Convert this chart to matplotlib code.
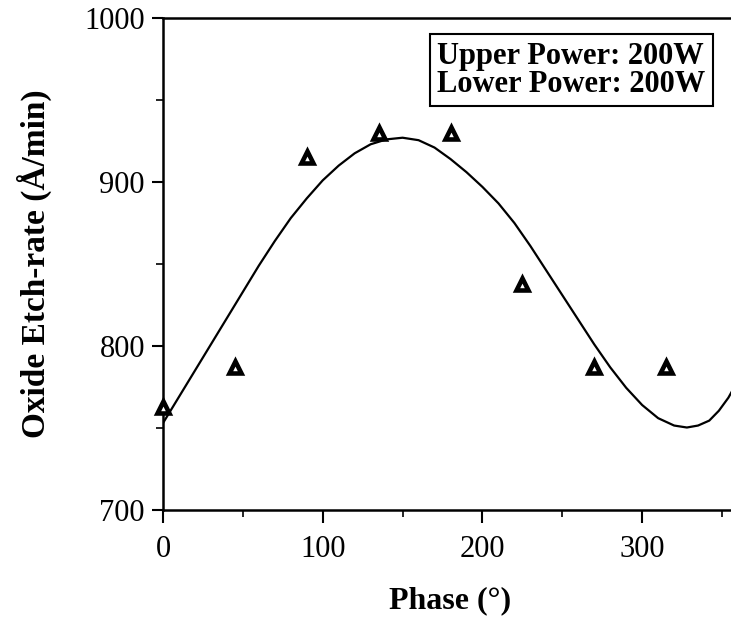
import numpy as np
import matplotlib
matplotlib.use("Agg")
import matplotlib.pyplot as plt
from matplotlib.ticker import MultipleLocator

# 측정점 (Phase, etch-rate)
phase_pts = [0, 45, 90, 135, 180, 225, 270, 315]
rate_pts = [763, 787, 915, 930, 930, 838, 787, 787]

# 피팅 곡선
curve_phase = [0, 10, 20, 30, 40, 50, 60, 70, 80, 90, 100, 110, 120, 130,
               140, 150, 160, 170, 180, 190, 200, 210, 220, 230, 240, 250,
               260, 270, 280, 290, 300, 310, 320, 328, 335, 342, 348, 354,
               360]
curve_rate = [753, 769, 785, 801, 817, 833, 849, 864, 878, 890, 901, 910,
              917.5, 923, 926, 927, 925.5, 921, 914, 906, 897, 887, 875,
              861, 846, 831, 816, 801, 787, 774.5, 764, 756, 751.5, 750.3,
              751.5, 754.5, 760.5, 768.5, 779]

legend_lines = ["Upper Power: 200W", "Lower Power: 200W"]

plt.rcParams['font.family'] = ['Liberation Serif', 'DejaVu Serif']

fig = plt.figure(figsize=(7.31, 6.18), dpi=100)
ax = fig.add_axes([163 / 731, 108 / 618, 575 / 731, 492 / 618])

ax.plot(curve_phase, curve_rate, color='black', lw=1.6, zorder=2,
        solid_joinstyle='round')
ax.plot(phase_pts, rate_pts, linestyle='none', marker='^', ms=9,
        mfc='white', mec='black', mew=3.3, zorder=3, clip_on=False)

ax.set_xlim(0, 360)
ax.set_ylim(700, 1000)
ax.xaxis.set_major_locator(MultipleLocator(100))
ax.xaxis.set_minor_locator(MultipleLocator(50))
ax.yaxis.set_major_locator(MultipleLocator(100))
ax.yaxis.set_minor_locator(MultipleLocator(50))
ax.tick_params(which='major', direction='out', length=8, width=1.5,
               labelsize=22, pad=5)
ax.tick_params(which='minor', direction='out', length=5, width=1.2)
ax.tick_params(axis='x', which='major', length=9, pad=9)
ax.spines['right'].set_visible(False)
for s in ['left', 'top', 'bottom']:
    ax.spines[s].set_linewidth(1.8)

ax.set_xlabel('Phase (°)', fontsize=23, fontweight='bold', labelpad=16)
ax.set_ylabel('Oxide Etch-rate (Å/min)', fontsize=24, fontweight='bold',
              labelpad=23)

ax.text(0.477, 0.894, "\n".join(legend_lines), transform=ax.transAxes,
        fontsize=22, fontweight='bold', linespacing=0.95, va='center',
        ha='left',
        bbox=dict(boxstyle='square,pad=0.25', fc='white', ec='black', lw=1.5))

fig.savefig('out.png', dpi=100)
